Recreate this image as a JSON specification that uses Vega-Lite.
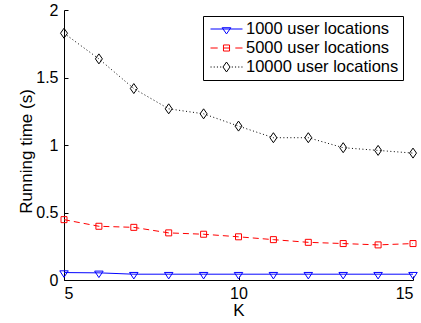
{
  "$schema": "https://vega.github.io/schema/vega-lite/v6.json",
  "width": 349,
  "height": 270,
  "autosize": {"type": "none"},
  "padding": {"left": 64, "top": 10, "right": 8, "bottom": 43},
  "background": "white",
  "config": {
    "view": {"stroke": null},
    "font": "Liberation Sans",
    "axis": {
      "grid": false,
      "domainColor": "black",
      "tickColor": "black",
      "labelColor": "black",
      "titleColor": "black",
      "labelFont": "Liberation Sans",
      "titleFont": "Liberation Sans",
      "labelFontSize": 16,
      "titleFontSize": 17,
      "titleFontWeight": "normal",
      "tickSize": -4,
      "domainWidth": 1,
      "tickWidth": 1
    }
  },
  "data": {
    "values": [
      {"K": 5, "series": "1000 user locations", "t": 0.055},
      {"K": 6, "series": "1000 user locations", "t": 0.053},
      {"K": 7, "series": "1000 user locations", "t": 0.043},
      {"K": 8, "series": "1000 user locations", "t": 0.043},
      {"K": 9, "series": "1000 user locations", "t": 0.043},
      {"K": 10, "series": "1000 user locations", "t": 0.043},
      {"K": 11, "series": "1000 user locations", "t": 0.043},
      {"K": 12, "series": "1000 user locations", "t": 0.043},
      {"K": 13, "series": "1000 user locations", "t": 0.043},
      {"K": 14, "series": "1000 user locations", "t": 0.043},
      {"K": 15, "series": "1000 user locations", "t": 0.043},
      {"K": 5, "series": "5000 user locations", "t": 0.447},
      {"K": 6, "series": "5000 user locations", "t": 0.398},
      {"K": 7, "series": "5000 user locations", "t": 0.39},
      {"K": 8, "series": "5000 user locations", "t": 0.349},
      {"K": 9, "series": "5000 user locations", "t": 0.339},
      {"K": 10, "series": "5000 user locations", "t": 0.32},
      {"K": 11, "series": "5000 user locations", "t": 0.299},
      {"K": 12, "series": "5000 user locations", "t": 0.279},
      {"K": 13, "series": "5000 user locations", "t": 0.27},
      {"K": 14, "series": "5000 user locations", "t": 0.26},
      {"K": 15, "series": "5000 user locations", "t": 0.27},
      {"K": 5, "series": "10000 user locations", "t": 1.828},
      {"K": 6, "series": "10000 user locations", "t": 1.638},
      {"K": 7, "series": "10000 user locations", "t": 1.418},
      {"K": 8, "series": "10000 user locations", "t": 1.268},
      {"K": 9, "series": "10000 user locations", "t": 1.231},
      {"K": 10, "series": "10000 user locations", "t": 1.14},
      {"K": 11, "series": "10000 user locations", "t": 1.054},
      {"K": 12, "series": "10000 user locations", "t": 1.054},
      {"K": 13, "series": "10000 user locations", "t": 0.98},
      {"K": 14, "series": "10000 user locations", "t": 0.96},
      {"K": 15, "series": "10000 user locations", "t": 0.94}
    ]
  },
  "encoding": {
    "x": {
      "field": "K", "type": "quantitative",
      "scale": {"domain": [5, 15], "nice": false, "zero": false},
      "axis": {"values": [5, 10, 15], "title": "K", "labelPadding": 9, "titlePadding": 1}
    },
    "y": {
      "field": "t", "type": "quantitative",
      "scale": {"domain": [0, 2], "nice": false},
      "axis": {"values": [0, 0.5, 1, 1.5, 2], "labelExpr": "'' + datum.value", "title": "Running time (s)", "labelPadding": 10, "titlePadding": 0, "titleY": 141}
    }
  },
  "layer": [
    {
      "mark": {"type": "line", "strokeWidth": 1},
      "encoding": {
        "stroke": {
          "field": "series", "type": "nominal",
          "sort": ["1000 user locations", "5000 user locations", "10000 user locations"],
          "scale": {"range": ["#0000ff", "#ff0000", "#000000"]},
          "legend": null
        },
        "strokeDash": {
          "field": "series", "type": "nominal",
          "sort": ["1000 user locations", "5000 user locations", "10000 user locations"],
          "scale": {"range": [[1, 0], [6, 4], [1, 2.5]]},
          "legend": null
        }
      }
    },
    {
      "transform": [{"filter": "datum.series == '1000 user locations'"}],
      "mark": {"type": "point", "filled": false, "size": 100, "strokeWidth": 1, "opacity": 1, "stroke": "#0000ff", "shape": "M-0.85,-0.35L0.85,-0.35L0,0.95Z"},
      "encoding": {}
    },
    {
      "transform": [{"filter": "datum.series == '5000 user locations'"}],
      "mark": {"type": "point", "filled": false, "size": 100, "strokeWidth": 1, "opacity": 1, "stroke": "#ff0000", "shape": "M-0.6,-0.6H0.6V0.6H-0.6Z"},
      "encoding": {}
    },
    {
      "transform": [{"filter": "datum.series == '10000 user locations'"}],
      "mark": {"type": "point", "filled": false, "size": 100, "strokeWidth": 1, "opacity": 1, "stroke": "#000000", "shape": "M0,-1L0.7,0L0,1L-0.7,0Z"},
      "encoding": {}
    },
    {
      "mark": {"type": "point", "filled": false, "size": 1024, "strokeWidth": 1, "opacity": 0},
      "encoding": {
        "color": {
          "field": "series", "type": "nominal",
          "scale": {"domain": ["1000 user locations", "5000 user locations", "10000 user locations"], "range": ["#0000ff", "#ff0000", "#000000"]},
          "legend": {
            "orient": "none", "legendX": 139, "legendY": 6, "title": null,
            "padding": 4, "symbolOffset": 3, "labelOffset": 3, "clipHeight": 18, "rowPadding": 1,
            "strokeColor": "black", "fillColor": "white",
            "labelFont": "Liberation Sans", "labelFontSize": 16.5, "labelColor": "black",
            "symbolSize": 1024, "symbolStrokeWidth": 1, "symbolFillColor": "transparent", "symbolOpacity": 1, "labelLimit": 300
          }
        },
        "shape": {
          "field": "series", "type": "nominal",
          "scale": {"domain": ["1000 user locations", "5000 user locations", "10000 user locations"], "range": [
            "M-1,0H1M-0.27,-0.08L0.27,-0.08L0,0.31Z",
            "M-1,0H-0.55M0.55,0H1M-0.19,-0.19H0.19V0.19H-0.19ZM-0.19,0H0.19",
            "M-1,0h0.07M-0.8,0h0.07M-0.6,0h0.07M-0.4,0h0.07M0.33,0h0.07M0.53,0h0.07M0.73,0h0.07M0.93,0h0.07M0,-0.31L0.22,0L0,0.31L-0.22,0Z"
          ]},
          "legend": {
            "orient": "none", "legendX": 139, "legendY": 6, "title": null,
            "padding": 4, "symbolOffset": 3, "labelOffset": 3, "clipHeight": 18, "rowPadding": 1,
            "strokeColor": "black", "fillColor": "white",
            "labelFont": "Liberation Sans", "labelFontSize": 16.5, "labelColor": "black",
            "symbolSize": 1024, "symbolStrokeWidth": 1, "symbolFillColor": "transparent", "symbolOpacity": 1, "labelLimit": 300
          }
        }
      }
    }
  ]
}
